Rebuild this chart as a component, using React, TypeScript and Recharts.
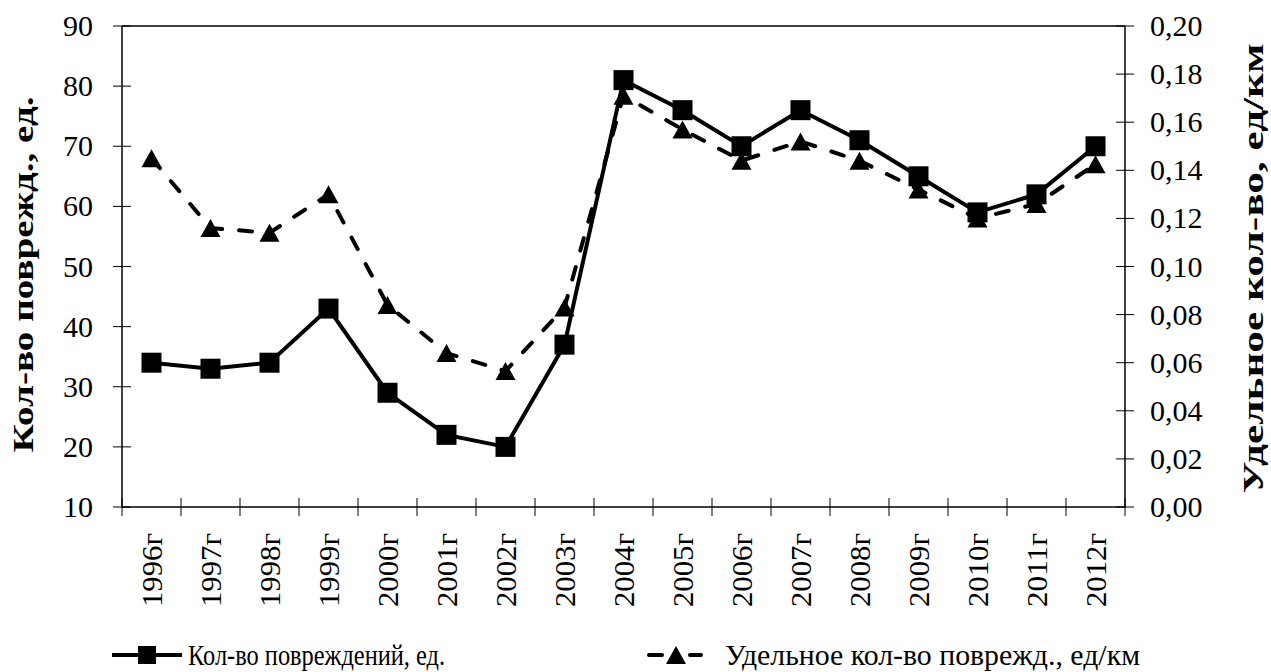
import React from 'react';
import { LineChart, Line, XAxis, YAxis, Legend, ReferenceLine } from 'recharts';

const years = ['1996г', '1997г', '1998г', '1999г', '2000г', '2001г', '2002г', '2003г', '2004г', '2005г', '2006г', '2007г', '2008г', '2009г', '2010г', '2011г', '2012г'];
const damages = [34, 33, 34, 43, 29, 22, 20, 37, 81, 76, 70, 76, 71, 65, 59, 62, 70];
const specific = [0.145, 0.116, 0.114, 0.13, 0.084, 0.064, 0.0565, 0.083, 0.171, 0.157, 0.144, 0.152, 0.144, 0.132, 0.12, 0.126, 0.1425];
const leftTicks = [10, 20, 30, 40, 50, 60, 70, 80, 90];
const rightTicks = [0, 0.02, 0.04, 0.06, 0.08, 0.1, 0.12, 0.14, 0.16, 0.18, 0.2];
const seriesNames = ['Кол-во повреждений, ед.', 'Удельное кол-во поврежд., ед/км'];
const axisTitles = ['Кол-во поврежд., ед.', 'Удельное кол-во, ед/км'];

const data = years.map((y, i) => ({ year: y, damages: damages[i], specific: specific[i] }));

const W = 1271;
const H = 672;
const LEFT_W = 122;
const RIGHT_W = 146;
const BAND = (W - LEFT_W - RIGHT_W) / years.length;
const FONT = "'Times New Roman', 'Liberation Serif', Tinos, 'DejaVu Serif', serif";
const serif = { fontFamily: FONT };

const XTick = (props: any) => {
  const { x, y, payload, index } = props;
  return (
    <g>
      <line x1={x - BAND / 2} x2={x - BAND / 2} y1={y - 9} y2={y + 9} stroke="#000" strokeWidth={1} />
      {index === years.length - 1 && (
        <line x1={x + BAND / 2} x2={x + BAND / 2} y1={y - 9} y2={y + 9} stroke="#000" strokeWidth={1} />
      )}
      <text
        transform={`translate(${x + 10},${y + 26}) rotate(-90)`}
        textAnchor="end"
        fontSize={30}
        textLength={74}
        lengthAdjust="spacingAndGlyphs"
        style={serif}
        fill="#000"
      >
        {payload.value}
      </text>
    </g>
  );
};

const LeftTick = (props: any) => {
  const { x, y, payload } = props;
  return (
    <g>
      <line x1={x - 9} x2={x + 9} y1={y} y2={y} stroke="#000" strokeWidth={1} />
      <text x={x - 29} y={y} dy={10} textAnchor="end" fontSize={30} style={serif} fill="#000">
        {payload.value}
      </text>
    </g>
  );
};

const RightTick = (props: any) => {
  const { x, y, payload } = props;
  return (
    <g>
      <line x1={x - 9} x2={x + 9} y1={y} y2={y} stroke="#000" strokeWidth={1} />
      <text x={x + 25} y={y} dy={10} textAnchor="start" fontSize={30} style={serif} fill="#000">
        {Number(payload.value).toFixed(2).replace('.', ',')}
      </text>
    </g>
  );
};

const SquareDot = (p: any) => (
  <rect key={`s-${p.index}`} x={p.cx - 10} y={p.cy - 10} width={20} height={20} fill="#000" />
);

const TriDot = (p: any) => (
  <path
    key={`t-${p.index}`}
    d={`M${p.cx},${p.cy - 9} L${p.cx + 10},${p.cy + 9} L${p.cx - 10},${p.cy + 9} Z`}
    fill="#000"
  />
);

const LeftTitle = (props: any) => {
  const vb = props.viewBox || { y: 26, height: 481 };
  const cy = vb.y + vb.height / 2 + 8;
  return (
    <text
      transform={`translate(33,${cy}) rotate(-90)`}
      textAnchor="middle"
      fontSize={30}
      fontWeight="bold"
      textLength={356}
      lengthAdjust="spacingAndGlyphs"
      style={serif}
      fill="#000"
    >
      {axisTitles[0]}
    </text>
  );
};

const RightTitle = (props: any) => {
  const vb = props.viewBox || { y: 26, height: 481 };
  const cy = vb.y + vb.height / 2 + 2;
  return (
    <text
      transform={`translate(1263,${cy}) rotate(-90)`}
      textAnchor="middle"
      fontSize={30}
      fontWeight="bold"
      textLength={450}
      lengthAdjust="spacingAndGlyphs"
      style={serif}
      fill="#000"
    >
      {axisTitles[1]}
    </text>
  );
};

const LegendContent = () => (
  <svg width={W} height={35} style={{ display: 'block' }}>
    <line x1={112} x2={182} y1={18} y2={18} stroke="#000" strokeWidth={4} />
    <rect x={138} y={9} width={18} height={18} fill="#000" />
    <text x={188} y={28} fontSize={30} textLength={257} lengthAdjust="spacingAndGlyphs" style={serif} fill="#000">
      {seriesNames[0]}
    </text>
    <line x1={649} x2={662} y1={18} y2={18} stroke="#000" strokeWidth={4} strokeLinecap="round" />
    <line x1={690} x2={701} y1={18} y2={18} stroke="#000" strokeWidth={4} strokeLinecap="round" />
    <path d="M676,9 L686,27 L666,27 Z" fill="#000" />
    <text x={725} y={28} fontSize={30} textLength={415} lengthAdjust="spacingAndGlyphs" style={serif} fill="#000">
      {seriesNames[1]}
    </text>
  </svg>
);

export default function App() {
  return (
    <div style={{ position: 'absolute', left: 0, top: 0, width: W, height: H, background: '#fff', fontFamily: FONT }}>
      <LineChart width={W} height={H} data={data} margin={{ top: 26, right: 0, bottom: 0, left: 0 }}>
        <XAxis
          dataKey="year"
          scale="band"
          height={130}
          interval={0}
          tickSize={0}
          tickMargin={0}
          tickLine={false}
          tick={<XTick />}
          axisLine={{ stroke: '#000', strokeWidth: 1.5 }}
        />
        <YAxis
          yAxisId="left"
          orientation="left"
          width={LEFT_W}
          domain={[10, 90]}
          ticks={leftTicks}
          interval={0}
          tickSize={0}
          tickMargin={0}
          tickLine={false}
          tick={<LeftTick />}
          axisLine={{ stroke: '#000', strokeWidth: 1.5 }}
          label={{ content: <LeftTitle /> }}
        />
        <YAxis
          yAxisId="right"
          orientation="right"
          width={RIGHT_W}
          domain={[0, 0.2]}
          ticks={rightTicks}
          interval={0}
          tickSize={0}
          tickMargin={0}
          tickLine={false}
          tick={<RightTick />}
          axisLine={{ stroke: '#000', strokeWidth: 1.5 }}
          label={{ content: <RightTitle /> }}
        />
        <ReferenceLine yAxisId="left" y={90} stroke="#000" strokeWidth={1.5} />
        <Legend
          verticalAlign="bottom"
          content={<LegendContent />}
          wrapperStyle={{ left: 0, bottom: 0, width: W, height: 35 }}
        />
        <Line
          yAxisId="left"
          dataKey="damages"
          name={seriesNames[0]}
          stroke="#000"
          strokeWidth={4}
          dot={SquareDot}
          activeDot={false}
          isAnimationActive={false}
        />
        <Line
          yAxisId="right"
          dataKey="specific"
          name={seriesNames[1]}
          stroke="#000"
          strokeWidth={4}
          strokeDasharray="13 17"
          strokeLinecap="round"
          dot={TriDot}
          activeDot={false}
          isAnimationActive={false}
        />
      </LineChart>
    </div>
  );
}
